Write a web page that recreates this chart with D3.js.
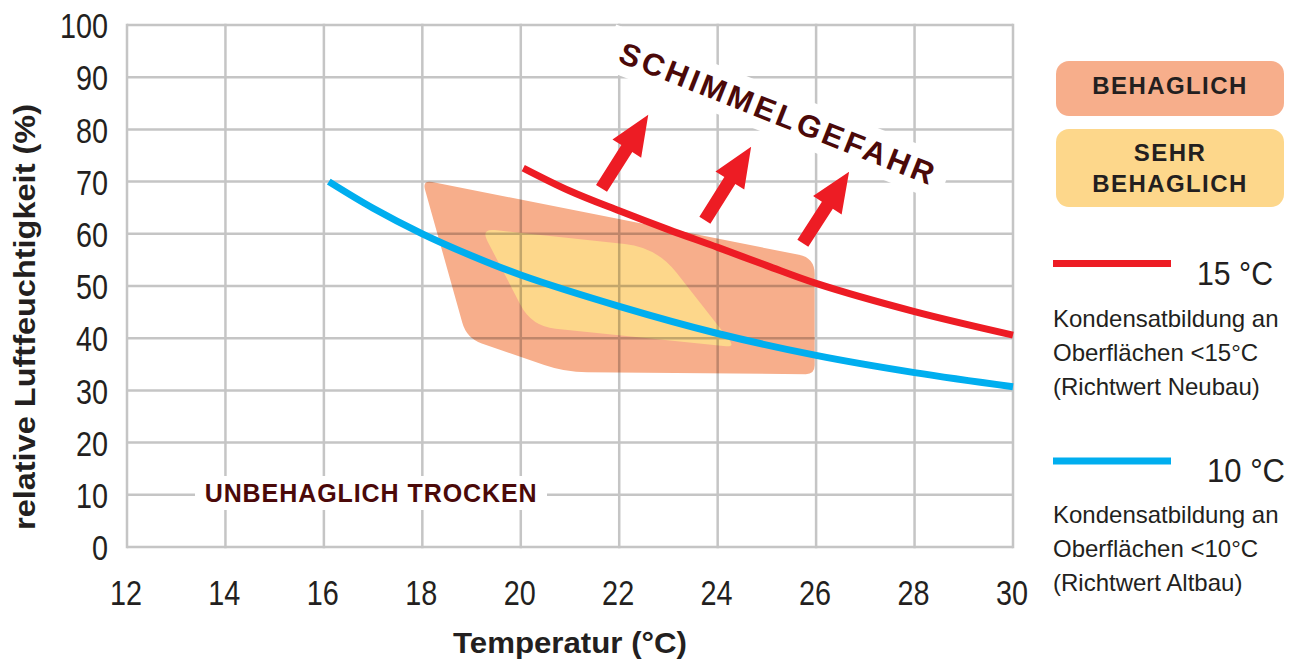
<!DOCTYPE html>
<html><head><meta charset="utf-8">
<script src="https://cdn.jsdelivr.net/npm/d3@7"></script>
<style>
html,body{margin:0;padding:0;background:#fff;}
svg{display:block;font-family:"Liberation Sans",Arial,Helvetica,sans-serif;}
</style></head><body>
<svg id="chart" width="1293" height="664"></svg>
<script>
// ---------- data ----------
const xTicks = [12,14,16,18,20,22,24,26,28,30];
const yTicks = [0,10,20,30,40,50,60,70,80,90,100];

// dew-point curves (temperature °C -> relative humidity %)
const curve15T  = [20.05, 21, 22, 23, 24, 25, 26, 28, 30];
const curve15RH = [72.6, 68.2, 64.4, 60.8, 57.4, 53.9, 50.5, 45.1, 40.6];
const curve10T  = [16.1, 17, 18, 19, 20, 22, 24, 26, 28, 30];
const curve10RH = [70.0, 64.9, 60.0, 55.8, 52.1, 46.1, 40.9, 36.7, 33.4, 30.7];

// comfort zones (corner points)
const behaglichT  = [18.0, 25.97, 25.97, 20.9, 18.9];
const behaglichRH = [70.3, 55.4, 33.1, 33.5, 40.0];
const sehrT  = [19.19, 22.76, 24.35, 20.22];
const sehrRH = [61.0, 57.4, 38.3, 42.3];

// mould arrows
const arrowFromT  = [21.64, 23.74, 25.73];
const arrowFromRH = [68.7, 62.6, 58.2];
const arrowToT    = [22.59, 24.68, 26.67];
const arrowToRH   = [82.8, 76.7, 71.9];

// texts
const xTitle = "Temperatur (°C)";
const yTitle = "relative Luftfeuchtigkeit (%)";
const moldLabel = "SCHIMMELGEFAHR";
const dryLabel = "UNBEHAGLICH TROCKEN";
const zoneLegend = [["BEHAGLICH"], ["SEHR", "BEHAGLICH"]];
const lineLegendTitle = ["15 °C", "10 °C"];
const lineLegendNotes = [
  ["Kondensatbildung an", "Oberflächen <15°C", "(Richtwert Neubau)"],
  ["Kondensatbildung an", "Oberflächen <10°C", "(Richtwert Altbau)"]
];

// ---------- styles ----------
const C_SALMON = "#f7ae8b", C_YELLOW = "#fdd78b", C_RED = "#ed1c24", C_BLUE = "#00aeef";
const C_TEXT = "#231f20", C_MAROON = "#4b0909";

const svg = d3.select("#chart");
const x = d3.scaleLinear().domain([12,30]).range([127,1013]);
const y = d3.scaleLinear().domain([0,100]).range([547,25]);

function roundedPath(pts, radii){
  const n = pts.length; let d = "";
  for (let i=0;i<n;i++){
    const p0 = pts[(i-1+n)%n], p1 = pts[i], p2 = pts[(i+1)%n];
    const v1 = [p0[0]-p1[0], p0[1]-p1[1]], v2 = [p2[0]-p1[0], p2[1]-p1[1]];
    const l1 = Math.hypot(v1[0],v1[1]), l2 = Math.hypot(v2[0],v2[1]);
    const r1 = Math.min(radii[i], l1/2), r2 = Math.min(radii[i], l2/2);
    const a = [p1[0]+v1[0]/l1*r1, p1[1]+v1[1]/l1*r1];
    const b = [p1[0]+v2[0]/l2*r2, p1[1]+v2[1]/l2*r2];
    d += (i===0?"M":"L") + a[0]+","+a[1] + " Q" + p1[0]+","+p1[1] + " " + b[0]+","+b[1];
  }
  return d + "Z";
}

// zones
const behPts = behaglichT.map((t,i)=>[x(t), y(behaglichRH[i])]);
svg.append("path").attr("d", roundedPath(behPts, [10,16,9,22,16])).attr("fill", C_SALMON);
const sehrPts = sehrT.map((t,i)=>[x(t), y(sehrRH[i])]);
svg.append("path").attr("d", roundedPath(sehrPts, [14,32,9,24])).attr("fill", C_YELLOW);

// grid
const grid = svg.append("g").attr("opacity", 0.225);
grid.selectAll("line.v").data(xTicks).join("line")
  .attr("x1", d=>x(d)).attr("x2", d=>x(d)).attr("y1", y(0)+1.25).attr("y2", y(100)-1.25)
  .attr("stroke", "#000").attr("stroke-width", 2.5);
grid.selectAll("line.h").data(yTicks).join("line")
  .attr("x1", x(12)).attr("x2", x(30)).attr("y1", d=>y(d)).attr("y2", d=>y(d))
  .attr("stroke", "#000").attr("stroke-width", 2.5);

// axes (labels only)
const gx = svg.append("g").attr("transform", `translate(0,${y(0)})`)
  .call(d3.axisBottom(x).tickValues(xTicks).tickSize(0).tickPadding(0).tickFormat(d3.format("d")));
gx.attr("font-size", null).attr("font-family", null);
gx.select(".domain").remove();
gx.selectAll("text").attr("y", 58).attr("dy", null).attr("x", -2)
  .attr("font-size", 36).attr("fill", C_TEXT).attr("transform", "scale(0.8,1)");

const gy = svg.append("g").attr("transform", `translate(${x(12)},0)`)
  .call(d3.axisLeft(y).tickValues(yTicks).tickSize(0).tickPadding(0).tickFormat(d3.format("d")));
gy.attr("font-size", null).attr("font-family", null);
gy.select(".domain").remove();
gy.selectAll("text").attr("x", -19/0.8).attr("dy", "0.35em")
  .attr("font-size", 36).attr("fill", C_TEXT).attr("transform", "scale(0.8,1)");

// axis titles
svg.append("text").text(xTitle).attr("x", 570).attr("y", 653)
  .attr("text-anchor", "middle").attr("font-size", 30).attr("font-weight", "bold")
  .attr("fill", C_TEXT).attr("textLength", 234).attr("lengthAdjust", "spacingAndGlyphs");
svg.append("text").text(yTitle).attr("transform", "translate(35,317) rotate(-90)")
  .attr("text-anchor", "middle").attr("font-size", 30).attr("font-weight", "bold")
  .attr("fill", C_TEXT).attr("textLength", 426).attr("lengthAdjust", "spacingAndGlyphs");

// curves
const line = d3.line().x(d=>x(d[0])).y(d=>y(d[1])).curve(d3.curveCatmullRom.alpha(0.5));
svg.append("path").attr("d", line(curve10T.map((t,i)=>[t, curve10RH[i]])))
  .attr("fill", "none").attr("stroke", C_BLUE).attr("stroke-width", 7);
svg.append("path").attr("d", line(curve15T.map((t,i)=>[t, curve15RH[i]])))
  .attr("fill", "none").attr("stroke", C_RED).attr("stroke-width", 7);

// arrows
function arrowPts(x0,y0,x1,y1){
  const dx=x1-x0, dy=y1-y0, L=Math.hypot(dx,dy), ux=dx/L, uy=dy/L, px=-uy, py=ux;
  const sw=6.5, hw=17, hl=40, bx=x1-ux*hl, by=y1-uy*hl;
  return [[x0+px*sw,y0+py*sw],[bx+px*sw,by+py*sw],[bx+px*hw,by+py*hw],[x1,y1],
          [bx-px*hw,by-py*hw],[bx-px*sw,by-py*sw],[x0-px*sw,y0-py*sw]];
}
svg.append("g").selectAll("polygon").data(arrowFromT).join("polygon")
  .attr("points", (d,i)=>arrowPts(x(d), y(arrowFromRH[i]), x(arrowToT[i]), y(arrowToRH[i])).map(p=>p.join(",")).join(" "))
  .attr("fill", C_RED);

// SCHIMMELGEFAHR
const mold = svg.append("g").attr("transform", "translate(777,113) rotate(21.6)");
mold.append("rect").attr("x", -182).attr("y", -23).attr("width", 364).attr("height", 46).attr("fill", "#fff");
mold.append("text").text(moldLabel).attr("x", 0).attr("y", 11)
  .attr("text-anchor", "middle").attr("font-size", 31).attr("font-weight", "bold")
  .attr("fill", C_MAROON).attr("textLength", 336).attr("lengthAdjust", "spacing");

// UNBEHAGLICH TROCKEN
svg.append("rect").attr("x", 195).attr("y", 476).attr("width", 352).attr("height", 34).attr("fill", "#fff");
svg.append("text").text(dryLabel).attr("x", x(16.95)).attr("y", 502)
  .attr("text-anchor", "middle").attr("font-size", 25).attr("font-weight", "bold")
  .attr("fill", C_MAROON).attr("textLength", 332).attr("lengthAdjust", "spacing");

// zone legend
const zoneBoxes = [{y:61, h:55, fill:C_SALMON, base:[94]}, {y:129, h:78, fill:C_YELLOW, base:[161, 192]}];
zoneBoxes.forEach((b,i)=>{
  svg.append("rect").attr("x", 1056).attr("y", b.y).attr("width", 228).attr("height", b.h)
    .attr("rx", 13).attr("fill", b.fill);
  zoneLegend[i].forEach((t,j)=>{
    svg.append("text").text(t).attr("x", 1170).attr("y", b.base[j])
      .attr("text-anchor", "middle").attr("font-size", 24).attr("font-weight", "bold")
      .attr("fill", C_TEXT).attr("letter-spacing", 1.4);
  });
});

// line legend
const lineLegend = [{color:C_RED, ly:263.5, tx:1197, tl:76, ty:285, notes:[327,361,395]},
                    {color:C_BLUE, ly:461, tx:1207, tl:78, ty:482, notes:[523,557,591]}];
lineLegend.forEach((l,i)=>{
  svg.append("line").attr("x1", 1053).attr("x2", 1171).attr("y1", l.ly).attr("y2", l.ly)
    .attr("stroke", l.color).attr("stroke-width", 7);
  svg.append("text").text(lineLegendTitle[i]).attr("x", l.tx).attr("y", l.ty)
    .attr("font-size", 34).attr("fill", C_TEXT).attr("textLength", l.tl).attr("lengthAdjust", "spacingAndGlyphs");
  lineLegendNotes[i].forEach((t,j)=>{
    svg.append("text").text(t).attr("x", 1053).attr("y", l.notes[j])
      .attr("font-size", 24).attr("fill", C_TEXT);
  });
});
</script>
</body></html>
